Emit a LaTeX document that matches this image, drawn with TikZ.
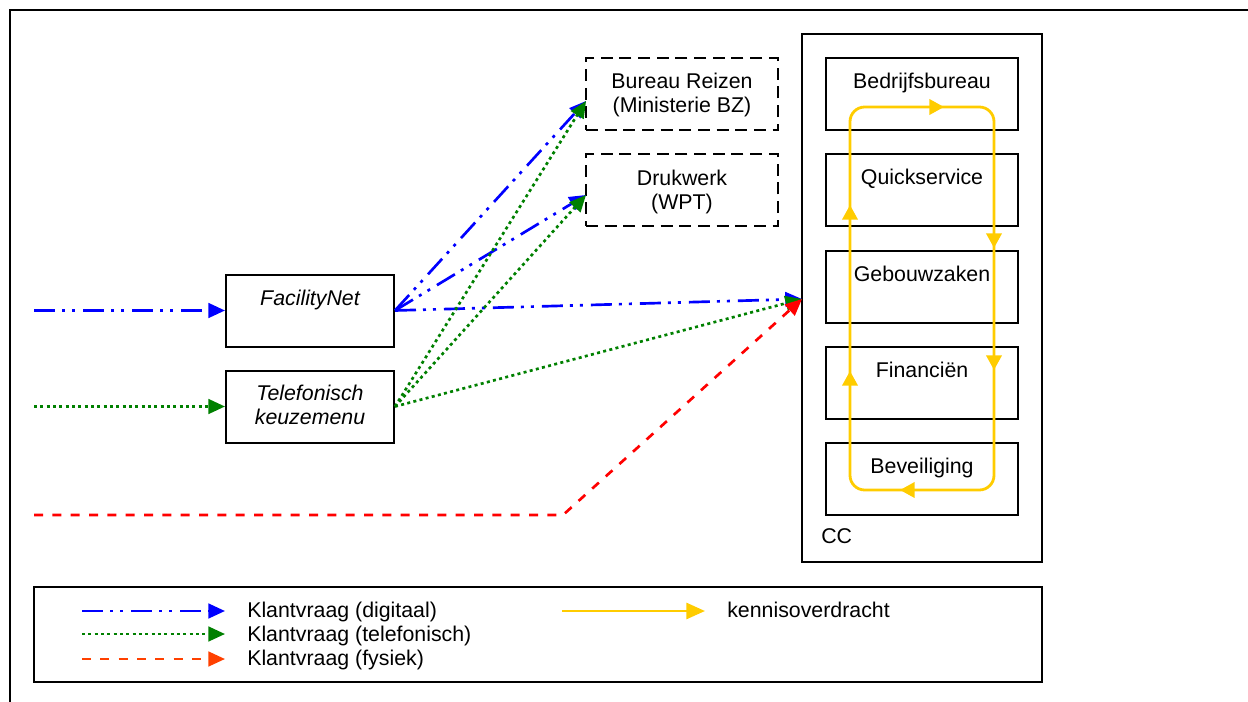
\documentclass[tikz,border=0pt]{standalone}
\usepackage{fontspec}
\setmainfont{Liberation Sans}
\usetikzlibrary{arrows.meta}
\definecolor{cblue}{RGB}{0,0,255}
\definecolor{cgreen}{RGB}{0,128,0}
\definecolor{cred}{RGB}{255,0,0}
\definecolor{corange}{RGB}{255,64,0}
\definecolor{cyellow}{RGB}{255,204,0}
\begin{document}
\begin{tikzpicture}[x=0.75pt,y=-0.75pt,
  every node/.style={font=\fontsize{16}{18}\selectfont, inner sep=0pt},
  frame/.style={draw, line width=1.5pt},
  box/.style={frame, minimum width=144pt, minimum height=54pt},
  dbox/.style={box, dash pattern=on 9pt off 5pt},
  inbox/.style={frame, minimum width=126pt, minimum height=54pt},
  txt/.style={anchor=base},
  tip/.style={-{Triangle[length=12.5pt,width=11pt]}},
  digital/.style={tip, draw=cblue, line width=2pt,
    dash pattern=on 15.75pt off 5.25pt on 2.25pt off 5.25pt on 2.25pt off 6pt},
  phone/.style={tip, draw=cgreen, line width=2pt,
    dash pattern=on 2.25pt off 2.5pt},
  physical/.style={tip, draw=cred, line width=2pt,
    dash pattern=on 6.75pt off 7pt},
  physleg/.style={physical, draw=corange},
  know/.style={draw=cyellow, line width=2.1pt},
  knowtip/.style={know, -{Triangle[length=11pt,width=11.5pt]}}
]
\useasboundingbox (0,0) rectangle (1248,702);

% page frame
\draw[frame] (10,702) -- (10,10) -- (1248,10);

% entry channels
\node[inbox] (fnet) at (310,310.5) {};
\node[txt] (fnetT) at (310,305) {\itshape FacilityNet};
\node[inbox] (tel) at (310,406.5) {};
\node[txt] (telT1) at (310,400) {\itshape Telefonisch};
\node[txt] (telT2) at (310,424) {\itshape keuzemenu};

% external parties
\node[dbox] (br) at (682,94.5) {};
\node[txt] (brT1) at (682,89) {Bureau Reizen};
\node[txt] (brT2) at (682,113) {(Ministerie BZ)};
\node[dbox] (dw) at (682,190.5) {};
\node[txt] (dwT1) at (682,186) {Drukwerk};
\node[txt] (dwT2) at (682,210) {(WPT)};

% CC with its departments
\node[frame, minimum width=180pt, minimum height=396pt] (cc) at (922,298) {};
\node[anchor=base west] (ccT) at (821,543) {CC};
\node[box] (d1) at (922,94.5) {};
\node[txt] (d1T) at (922,89) {Bedrijfsbureau};
\node[box] (d2) at (922,190.5) {};
\node[txt] (d2T) at (922,185) {Quickservice};
\node[box] (d3) at (922,286.5) {};
\node[txt] (d3T) at (922,281) {Gebouwzaken};
\node[box] (d4) at (922,382.5) {};
\node[txt] (d4T) at (922,377) {Financiën};
\node[box] (d5) at (922,478.5) {};
\node[txt] (d5T) at (922,473) {Beveiliging};

% knowledge transfer loop
\draw[know, rounded corners=11pt] (850,107) rectangle (994,490);
\draw[knowtip] (925,107) -- (944,107);
\draw[knowtip] (994,228) -- (994,248);
\draw[knowtip] (994,350) -- (994,370);
\draw[knowtip] (920,490) -- (900,490);
\draw[knowtip] (850,391) -- (850,371);
\draw[knowtip] (850,225) -- (850,205);

% incoming questions
\coordinate (inB) at (34,310.5);
\coordinate (inG) at (34,406.5);
\coordinate (inR) at (34,515);
\coordinate (bendR) at (563,515);
\coordinate (brIn) at (586,101);
\coordinate (dwIn) at (586,195);
\coordinate (ccIn) at (802,299);

\draw[digital] (inB) -- (fnet.west);
\draw[phone] (inG) -- (tel.west);

\draw[digital] (fnet.east) -- (brIn);
\draw[digital] (fnet.east) -- (dwIn);
\draw[digital] (fnet.east) -- (ccIn);
\draw[phone] (tel.east) -- (brIn);
\draw[phone] (tel.east) -- (dwIn);
\draw[phone] (tel.east) -- (ccIn);
\draw[physical] (inR) -- (bendR) -- (ccIn);

% legend
\node[frame, minimum width=756pt, minimum height=71.25pt] (legend) at (538,634.5) {};
\coordinate (lgB1) at (82,611);   \coordinate (lgB2) at (225,611);
\coordinate (lgG1) at (82,634);   \coordinate (lgG2) at (225,634);
\coordinate (lgR1) at (82,659);   \coordinate (lgR2) at (225,659);
\coordinate (lgY1) at (562,611);  \coordinate (lgY2) at (705,611);
\draw[digital] (lgB1) -- (lgB2);
\draw[phone] (lgG1) -- (lgG2);
\draw[physleg] (lgR1) -- (lgR2);
\draw[know, -{Triangle[length=14pt,width=12pt]}] (lgY1) -- (lgY2);
\node[anchor=base west] (lgBt) at (247,617) {Klantvraag (digitaal)};
\node[anchor=base west] (lgGt) at (247,641) {Klantvraag (telefonisch)};
\node[anchor=base west] (lgRt) at (247,665) {Klantvraag (fysiek)};
\node[anchor=base west] (lgYt) at (727,617) {kennisoverdracht};
\end{tikzpicture}
\end{document}
